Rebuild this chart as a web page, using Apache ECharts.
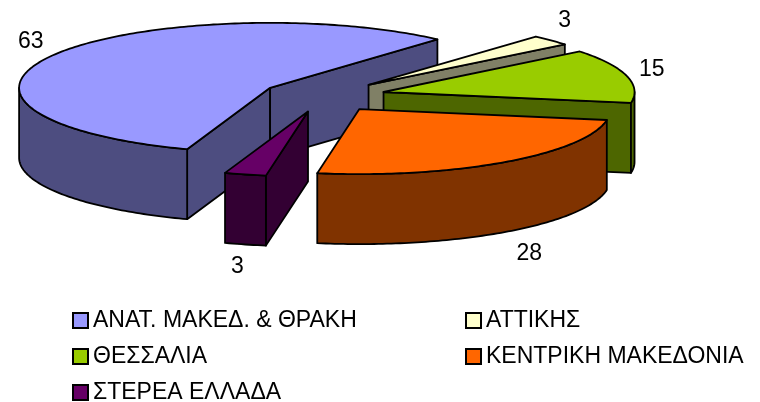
<!DOCTYPE html>
<html><head><meta charset="utf-8">
<style>html,body{margin:0;padding:0;background:#fff}#c{width:760px;height:402px}</style>
<script src="https://cdn.jsdelivr.net/npm/echarts@6/dist/echarts.min.js"></script>
</head><body><div id="c"></div>
<script>
const categories = ['ΑΝΑΤ. ΜΑΚΕΔ. & ΘΡΑΚΗ','ΑΤΤΙΚΗΣ','ΘΕΣΣΑΛΙΑ','ΚΕΝΤΡΙΚΗ ΜΑΚΕΔΟΝΙΑ','ΣΤΕΡΕΑ ΕΛΛΑΔΑ'];
const values = [63,3,15,28,3];
const topColors = ['#9999FF','#FFFFCC','#99CC00','#FF6600','#660066'];
const sideColors = ['#4D4D80','#808066','#4D6600','#803300','#330033'];
const drawOrder = [0,1,2,4,3];
const labelShift = [[0,1],[-6,-1],[-1,1],[9,0],[-1,-4]];

const CX=323.5, CY=96, RX=251, RY=65, DEPTH=70, EXPLODE=0.247, START=250.7, LABEL_R=27, FONT=23;
const total = values.reduce((a,b)=>a+b,0);
const slices = []; let acc = START;
values.forEach((v,i)=>{
  const sweep = v/total*360, a0 = acc, a1 = acc - sweep; acc = a1;
  const mid = (a0+a1)/2*Math.PI/180;
  slices.push({a0,a1,mid,x:CX+EXPLODE*RX*Math.cos(mid),y:CY-EXPLODE*RY*Math.sin(mid)});
});
const pt=(s,deg,dz)=>[s.x+RX*Math.cos(deg*Math.PI/180), s.y-RY*Math.sin(deg*Math.PI/180)+(dz||0)];
function arc(s,from,to,dz){const n=Math.max(2,Math.ceil(Math.abs(from-to)));const r=[];
  for(let k=0;k<=n;k++)r.push(pt(s,from+(to-from)*k/n,dz));return r;}
function poly(points,fill){return {type:'polygon',shape:{points},style:{fill,stroke:'#000',lineWidth:1.8,lineJoin:'round'}};}
// A cut wall faces the viewer only if the slice's interior lies above its edge on screen.
function wallVisible(s,a,inward){
  const e=pt(s,a,0), p=pt(s,a+inward,0);
  const dx=e[0]-s.x, dy=e[1]-s.y;
  let nx=-dy, ny=dx;
  if(nx*(p[0]-s.x)+ny*(p[1]-s.y)>0){nx=-nx;ny=-ny;}
  return ny>0;
}

function renderSlice(idx){
  const s=slices[idx], side=sideColors[idx], kids=[];
  const c=[s.x,s.y], cb=[s.x,s.y+DEPTH];
  [[s.a0,-1],[s.a1,1]].forEach(([a,inw])=>{
    if(wallVisible(s,a,inw)) kids.push(poly([c,pt(s,a,0),pt(s,a,DEPTH),cb],side));
  });
  for(let base=-720;base<=360;base+=360){
    const lo=Math.max(s.a1,base+180), hi=Math.min(s.a0,base+360);
    if(hi>lo) kids.push(poly(arc(s,hi,lo,0).concat(arc(s,lo,hi,DEPTH)),side));
  }
  kids.push(poly([c].concat(arc(s,s.a0,s.a1,0)),topColors[idx]));
  const front=Math.sin(s.mid)<0?DEPTH:0;
  kids.push({type:'text',style:{
    text:String(values[idx]),
    x:s.x+(RX+LABEL_R)*Math.cos(s.mid)+labelShift[idx][0],
    y:s.y-(RY+LABEL_R)*Math.sin(s.mid)+front+labelShift[idx][1],
    align:'center',verticalAlign:'middle',fill:'#000',
    font:FONT+'px "Liberation Sans",Arial,sans-serif'}});
  return {type:'group',children:kids};
}

const chart = echarts.init(document.getElementById('c'),null,{renderer:'canvas'});
chart.setOption({
  animation:false,
  legend:categories.map((name,i)=>({
    left:i%2?465:72,top:309+36*Math.floor(i/2),padding:0,
    itemWidth:15,itemHeight:15,itemGap:0,icon:'rect',data:[name],
    itemStyle:{borderColor:'#000',borderWidth:2},
    textStyle:{fontFamily:'"Liberation Sans",Arial,sans-serif',fontSize:FONT,color:'#000',lineHeight:15,padding:0}
  })),
  series:drawOrder.map(i=>({
    type:'custom',name:categories[i],coordinateSystem:'none',
    silent:true,data:[values[i]],itemStyle:{color:topColors[i]},
    z:drawOrder.indexOf(i)+1,
    renderItem:()=>renderSlice(i)
  }))
});
</script></body></html>
